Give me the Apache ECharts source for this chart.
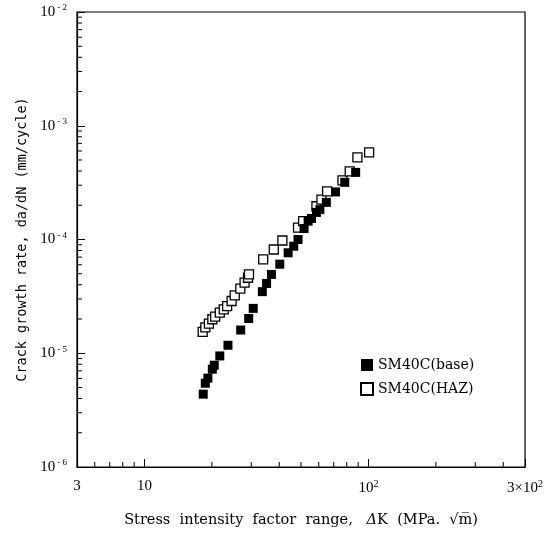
<!DOCTYPE html>
<html>
<head>
<meta charset="utf-8">
<script src="https://cdn.jsdelivr.net/npm/echarts@6/dist/echarts.min.js"></script>
<style>
  html, body { margin: 0; padding: 0; background: #fff; }
  #chart { width: 553px; height: 533px; }
</style>
</head>
<body>
<div id="chart"></div>
<script>
// SM40C base metal: ΔK (MPa√m) and da/dN (mm/cycle)
const baseK = [18.3, 18.7, 19.2, 20.1, 20.5, 21.7, 23.6, 26.9, 29.2, 30.6, 33.6, 35.1, 36.9,
  40.2, 43.8, 46.4, 48.5, 51.6, 53.8, 55.7, 58.6, 60.7, 64.9, 71.3, 78.4, 87.7]
const baseRate = [4.37e-6, 5.45e-6, 6.04e-6, 7.24e-6, 7.85e-6, 9.47e-6, 1.175e-5, 1.60e-5, 2.02e-5,
  2.48e-5, 3.48e-5, 4.11e-5, 4.93e-5, 6.07e-5, 7.64e-5, 8.73e-5, 1.0e-4, 1.25e-4, 1.45e-4,
  1.53e-4, 1.73e-4, 1.83e-4, 2.12e-4, 2.62e-4, 3.18e-4, 3.89e-4]

// SM40C heat affected zone
const hazK = [18.2, 18.7, 19.4, 20.1, 20.7, 21.7, 22.6, 23.4, 24.5, 25.3, 26.8, 28.0, 29.0,
  29.3, 33.9, 37.8, 41.3, 48.5, 51.1, 58.6, 61.7, 65.4, 76.6, 82.5, 89.3, 100.7]
const hazRate = [1.54e-5, 1.69e-5, 1.82e-5, 1.99e-5, 2.10e-5, 2.28e-5, 2.43e-5, 2.60e-5, 2.88e-5,
  3.23e-5, 3.70e-5, 4.17e-5, 4.61e-5, 4.93e-5, 6.68e-5, 8.17e-5, 9.8e-5, 1.27e-4, 1.45e-4,
  1.96e-4, 2.24e-4, 2.65e-4, 3.31e-4, 3.97e-4, 5.27e-4, 5.83e-4]

// minor tick positions
const xMinorTicks = [6, 7, 8, 9, 20, 30, 40, 50, 60, 70, 80, 90, 200, 300, 400]
const yMinorTicks = []
;[1e-6, 1e-5, 1e-4, 1e-3].forEach(d => {
  for (let m = 2; m <= 9; m++) yMinorTicks.push(+(m * d).toPrecision(2))
})

const xMin = 5
const xMax = 500
const yMin = 1e-6
const yMax = 1e-2

const serif = 'Liberation Serif'
const chart = echarts.init(document.getElementById('chart'))

const toPairs = (xs, ys) => xs.map((x, i) => [x, ys[i]])

const option = {
  animation: false,
  backgroundColor: '#fff',
  grid: {
    left: 77,
    right: 28,
    top: 12,
    bottom: 64,
    show: true,
    borderColor: '#000',
    borderWidth: 1.2
  },
  legend: {
    data: ['SM40C(base)', 'SM40C(HAZ)'],
    orient: 'vertical',
    left: 355,
    top: 353,
    itemWidth: 12,
    itemHeight: 12,
    itemGap: 10,
    textStyle: {
      fontFamily: 'DejaVu Serif',
      fontSize: 14,
      color: '#000'
    }
  },
  xAxis: {
    type: 'log',
    logBase: 10,
    min: xMin,
    max: xMax,
    name: '{t|Stress  intensity  factor  range,   }{i|Δ}{t|K  (MPa.  √m̅)}',
    nameLocation: 'middle',
    nameGap: 46,
    nameTextStyle: {
      rich: {
        t: { fontFamily: 'DejaVu Serif', fontSize: 14.5, color: '#000' },
        i: { fontFamily: 'DejaVu Serif', fontSize: 14.5, fontStyle: 'italic', color: '#000' }
      }
    },
    splitLine: { show: false },
    axisLine: { lineStyle: { color: '#000', width: 1.2 } },
    axisTick: { inside: true, length: 8, lineStyle: { color: '#000' } },
    axisLabel: {
      margin: 12,
      showMinLabel: true,
      showMaxLabel: true,
      formatter: function (value) {
        if (value < 6) return '{b|3}'
        if (value > 400) return '{b|3×10}{s|2}'
        if (Math.abs(value - 10) < 1) return '{b|10}'
        if (Math.abs(value - 100) < 1) return '{b|10}{s|2}'
        return ''
      },
      rich: {
        b: { fontFamily: serif, fontSize: 15, color: '#000' },
        s: { fontFamily: serif, fontSize: 10, color: '#000', padding: [0, 0, 8, 0] }
      }
    }
  },
  yAxis: {
    type: 'log',
    logBase: 10,
    min: yMin,
    max: yMax,
    name: 'Crack growth rate, da/dN (mm/cycle)',
    nameLocation: 'middle',
    nameGap: 48,
    nameTextStyle: {
      fontFamily: 'DejaVu Sans Mono',
      fontSize: 13.5,
      color: '#000'
    },
    splitLine: { show: false },
    axisLine: { lineStyle: { color: '#000', width: 1.2 } },
    axisTick: { inside: true, length: 8, lineStyle: { color: '#000' } },
    axisLabel: {
      margin: 10,
      formatter: function (value) {
        const e = Math.round(Math.log10(value))
        return '{b|10}{s|- ' + Math.abs(e) + '}'
      },
      rich: {
        b: { fontFamily: serif, fontSize: 15, color: '#000' },
        s: { fontFamily: serif, fontSize: 9, color: '#000', padding: [0, 0, 8, 2] }
      }
    }
  },
  series: [
    {
      name: 'SM40C(base)',
      type: 'scatter',
      symbol: 'rect',
      symbolSize: 9,
      itemStyle: { color: '#000', opacity: 1 },
      data: toPairs(baseK, baseRate),
      z: 3
    },
    {
      name: 'SM40C(HAZ)',
      type: 'scatter',
      symbol: 'rect',
      symbolSize: 9,
      itemStyle: { color: '#fff', borderColor: '#000', borderWidth: 1.3, opacity: 1 },
      data: toPairs(hazK, hazRate),
      z: 2
    },
    {
      // x axis minor ticks
      type: 'custom',
      silent: true,
      clip: false,
      data: xMinorTicks.map(x => [x, yMin]),
      renderItem: function (params, api) {
        const p = api.coord([api.value(0), api.value(1)])
        return {
          type: 'line',
          shape: { x1: p[0], y1: p[1], x2: p[0], y2: p[1] - 5 },
          style: { stroke: '#000', lineWidth: 1 }
        }
      }
    },
    {
      // y axis minor ticks
      type: 'custom',
      silent: true,
      clip: false,
      data: yMinorTicks.map(y => [xMin, y]),
      renderItem: function (params, api) {
        const p = api.coord([api.value(0), api.value(1)])
        return {
          type: 'line',
          shape: { x1: p[0], y1: p[1], x2: p[0] + 5, y2: p[1] },
          style: { stroke: '#000', lineWidth: 1 }
        }
      }
    }
  ]
}
chart.setOption(option)
</script>
</body>
</html>
